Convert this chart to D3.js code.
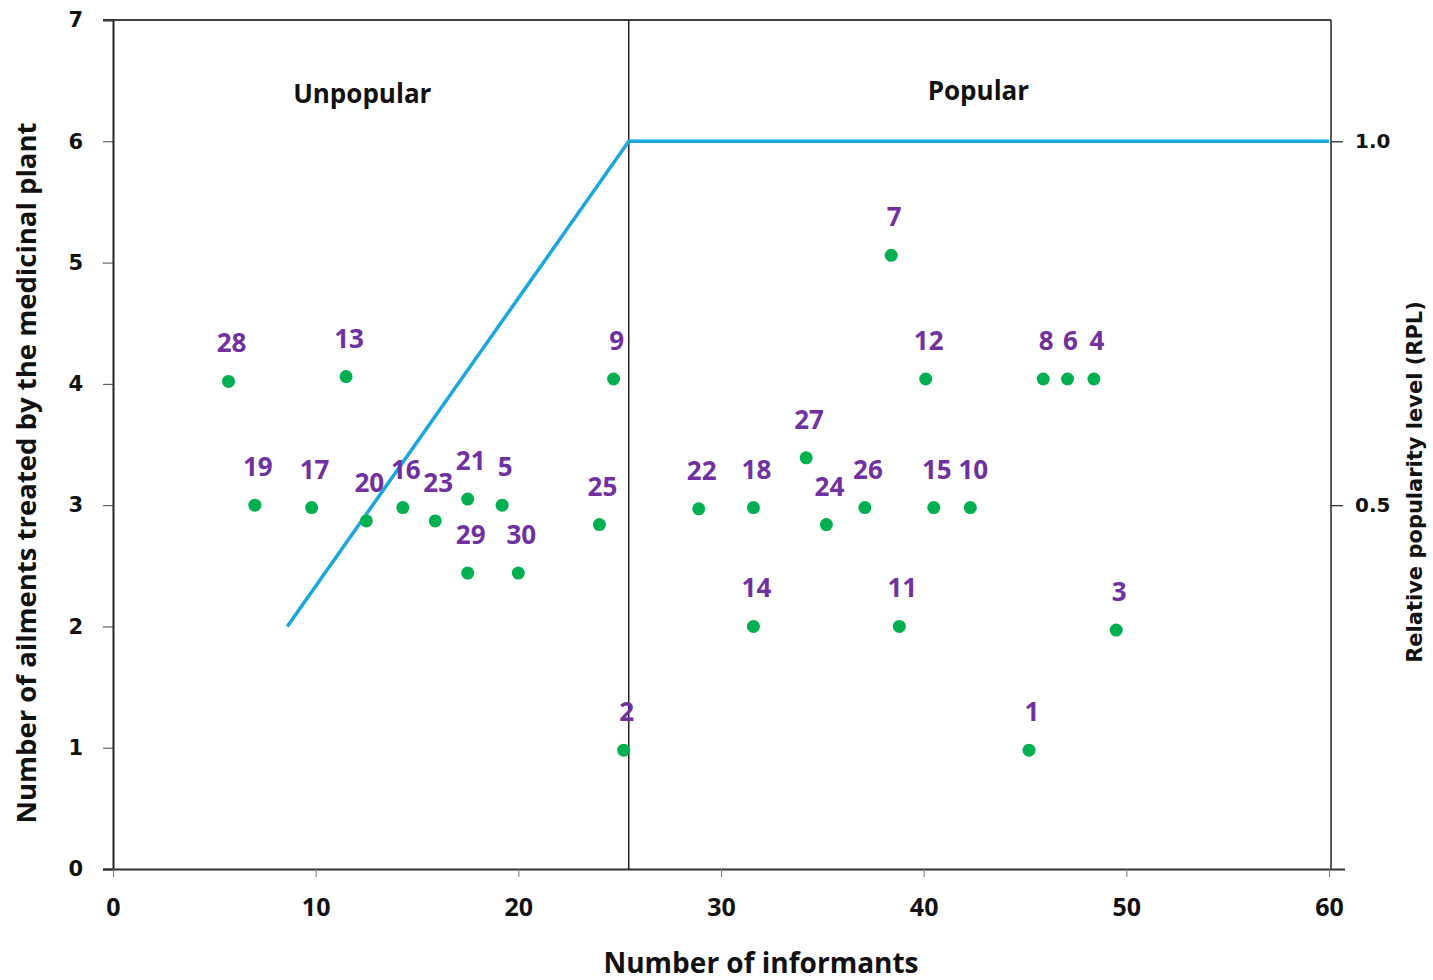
<!DOCTYPE html>
<html>
<head>
<meta charset="utf-8">
<script src="https://cdn.jsdelivr.net/npm/d3@7"></script>
<style>
  html, body { margin: 0; padding: 0; background: #fff; }
  svg { display: block; }
</style>
</head>
<body>
<svg id="chart" width="1433" height="980"></svg>
<script>
// ---- data ----
const plantIds   = [28, 13, 19, 17, 20, 16, 23, 21, 5, 29, 30, 9, 25, 2, 22, 18, 27, 24, 26, 15, 10, 7, 12, 8, 6, 4, 14, 11, 3, 1];
const informants = [5.7, 11.5, 7.0, 9.8, 12.5, 14.3, 15.9, 17.5, 19.2, 17.5, 20.0, 24.7, 24.0, 25.2, 28.9, 31.6, 34.2, 35.2, 37.1, 40.5, 42.3, 38.4, 40.1, 45.9, 47.1, 48.4, 31.6, 38.8, 49.5, 45.2];
const ailments   = [4.02, 4.06, 3.0, 2.98, 2.87, 2.98, 2.87, 3.05, 3.0, 2.44, 2.44, 4.04, 2.84, 0.98, 2.97, 2.98, 3.39, 2.84, 2.98, 2.98, 2.98, 5.06, 4.04, 4.04, 4.04, 4.04, 2.0, 2.0, 1.97, 0.98];
const rplLineX   = [8.6, 25.45, 60];
const rplLineY   = [2, 6, 6];
const dividerX   = 25.45;
const xTicks     = [0, 10, 20, 30, 40, 50, 60];
const yTicks     = [0, 1, 2, 3, 4, 5, 6, 7];
const rplTicks   = [0.5, 1.0];
const regionNames = ["Unpopular", "Popular"];
const regionX     = [12.3, 42.7];
const regionY     = [6.37, 6.4];

// ---- layout ----
const svg = d3.select("#chart");
const L = 113, R = 1331, T = 20, B = 869;
const x = d3.scaleLinear().domain([0, 60]).range([L, R - 2]);
const y = d3.scaleLinear().domain([0, 7]).range([B, T]);
const yR = d3.scaleLinear().domain([0, 7 / 6]).range([B, T]);

const green = "#00B050", purple = "#7030A0", blue = "#1AA6DF";

// frame lines (top + right)
svg.append("line").attr("x1", L - 10).attr("x2", R).attr("y1", T).attr("y2", T)
  .attr("stroke", "#000").attr("stroke-width", 1.5);
svg.append("line").attr("x1", R).attr("x2", R).attr("y1", T).attr("y2", B)
  .attr("stroke", "#000").attr("stroke-width", 1.3);

// left axis
const gy = svg.append("g").attr("transform", `translate(${L},0)`)
  .call(d3.axisLeft(y).tickValues(yTicks).tickSize(10).tickPadding(20).tickFormat(d3.format("d")));
gy.select(".domain").attr("stroke", "#222").attr("stroke-width", 2);
gy.selectAll(".tick line").attr("stroke", "#444");
gy.selectAll("text").attr("font-family", "DejaVu Sans, Verdana, sans-serif")
  .attr("font-weight", "bold").attr("font-size", 21).attr("fill", "#111");

// bottom axis
const gx = svg.append("g").attr("transform", `translate(0,${B})`)
  .call(d3.axisBottom(x).tickValues(xTicks).tickSize(8).tickPadding(21).tickFormat(d3.format("d")));
gx.select(".domain").attr("stroke", "#333").attr("stroke-width", 2)
  .attr("d", `M${L - 10},0.5H${R + 14}`);
gx.selectAll(".tick line").attr("stroke", "#777");
gx.selectAll("text").attr("font-family", "Open Sans, sans-serif")
  .attr("font-weight", "bold").attr("font-size", 25).attr("fill", "#111");

// right axis
const gr = svg.append("g").attr("transform", `translate(${R},0)`)
  .call(d3.axisRight(yR).tickValues(rplTicks).tickSize(12).tickPadding(12).tickFormat(d3.format(".1f")));
gr.select(".domain").remove();
gr.selectAll(".tick line").attr("stroke", "#333").attr("stroke-width", 1.3);
gr.selectAll("text").attr("font-family", "DejaVu Sans, Verdana, sans-serif")
  .attr("font-weight", "bold").attr("font-size", 20).attr("fill", "#111");

// divider
svg.append("line").attr("x1", x(dividerX)).attr("x2", x(dividerX)).attr("y1", T).attr("y2", B)
  .attr("stroke", "#000").attr("stroke-width", 1.3);

// RPL line
const lineData = rplLineX.map((v, i) => [v, rplLineY[i]]);
svg.append("path").datum(lineData)
  .attr("d", d3.line().x(d => x(d[0])).y(d => y(d[1])))
  .attr("fill", "none").attr("stroke", blue).attr("stroke-width", 3.5);

// region labels
const regions = regionNames.map((t, i) => ({text: t, x: regionX[i], y: regionY[i]}));
svg.selectAll(".region").data(regions).join("text")
  .attr("x", d => x(d.x)).attr("y", d => y(d.y))
  .attr("text-anchor", "middle").attr("dominant-baseline", "middle")
  .attr("font-family", "Open Sans, sans-serif").attr("font-weight", "bold")
  .attr("font-size", 26).attr("fill", "#111").text(d => d.text);

// points
const pts = plantIds.map((id, i) => ({id, x: informants[i], y: ailments[i]}));
svg.selectAll(".pt").data(pts).join("circle")
  .attr("cx", d => x(d.x)).attr("cy", d => y(d.y)).attr("r", 6.5).attr("fill", green);

svg.selectAll(".lbl").data(pts).join("text")
  .attr("x", d => x(d.x) + 3).attr("y", d => y(d.y) - 36)
  .attr("text-anchor", "middle").attr("dominant-baseline", "middle")
  .attr("font-family", "Open Sans, sans-serif").attr("font-weight", "bold")
  .attr("font-size", 26).attr("fill", purple).text(d => d.id);

// axis titles
svg.append("text")
  .attr("transform", `translate(29,473) rotate(-90)`)
  .attr("text-anchor", "middle").attr("dominant-baseline", "middle")
  .attr("font-family", "Open Sans, sans-serif").attr("font-weight", "bold")
  .attr("font-size", 27.5).attr("fill", "#111")
  .text("Number of ailments treated by the medicinal plant");

svg.append("text")
  .attr("x", 761).attr("y", 966)
  .attr("text-anchor", "middle").attr("dominant-baseline", "middle")
  .attr("font-family", "Open Sans, sans-serif").attr("font-weight", "bold")
  .attr("font-size", 28).attr("fill", "#111")
  .text("Number of informants");

svg.append("text")
  .attr("transform", `translate(1416,482) rotate(-90)`)
  .attr("text-anchor", "middle").attr("dominant-baseline", "middle")
  .attr("font-family", "DejaVu Sans, Verdana, sans-serif").attr("font-weight", "bold")
  .attr("font-size", 21).attr("fill", "#111")
  .text("Relative popularity  level (RPL)");
</script>
</body>
</html>
